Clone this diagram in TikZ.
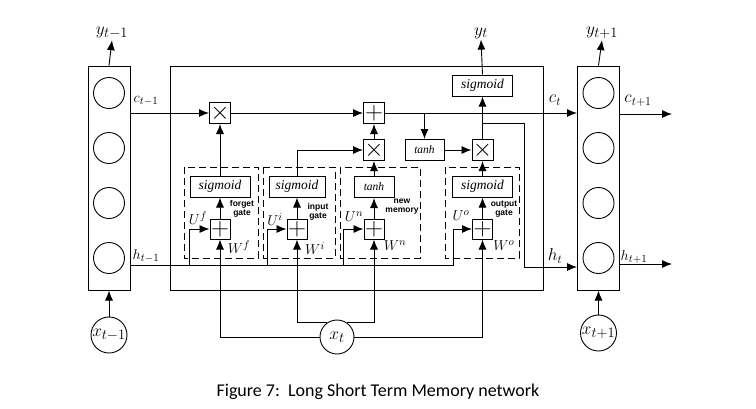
\documentclass[tikz,border=0pt]{standalone}
\usepackage{fontspec}
\setmainfont{Liberation Serif}
\setsansfont{Liberation Sans}
\newfontfamily\capfont{Carlito}
\usetikzlibrary{arrows.meta}
\tikzset{
  ln/.style={line width=0.9pt},
  arr/.style={ln, -{Latex[length=10pt,width=8pt]}},
  opbox/.style={draw, line width=1pt, minimum size=21pt, inner sep=0pt, font=\fontsize{24}{24}\selectfont},
  gop/.style={draw, line width=1pt, minimum size=20pt, inner sep=0pt, font=\fontsize{24}{24}\selectfont},
  fbox/.style={draw, line width=1pt, minimum height=21pt, inner sep=0pt, font=\fontsize{13.5}{13.5}\selectfont\itshape},
  gbox/.style={draw, dash pattern=on 7pt off 4pt, line width=1pt},
  unit/.style={draw, circle, line width=0.9pt, minimum size=31pt, inner sep=0pt},
  col/.style={draw, line width=1pt, minimum width=42pt, minimum height=224pt, inner sep=0pt},
  glab/.style={font=\fontsize{8.5}{9}\selectfont\sffamily\bfseries, align=center, inner sep=0pt},
  yl/.style={font=\fontsize{19}{19}\selectfont, inner sep=1pt},
  sl/.style={font=\fontsize{15}{15}\selectfont, inner sep=0pt},
  wl/.style={font=\fontsize{15.5}{15.5}\selectfont, inner sep=0pt}
}
\begin{document}
\begin{tikzpicture}[x=1pt,y=-1pt]
\fill[white] (0,0) rectangle (756,408);
\useasboundingbox (0,0) rectangle (756,408);

% big cell box
\node[draw, ln, minimum width=373pt, minimum height=224pt, inner sep=0pt] (cell) at (356.5,178) {};

% columns
\node[col] (L) at (109,178) {};
\node[col] (R) at (598.5,178) {};
\foreach \yy [count=\i] in {93,148,203,258} {
  \node[unit] (L\i) at (109,\yy) {};
  \node[unit] (R\i) at (598.5,\yy) {};
}

% column inputs / outputs
\node[yl] (ylm) at (112,33) {$y_{t-1}$};
\node[yl] (ylp) at (602,33) {$y_{t+1}$};
\draw[arr] (L.north) -- (ylm.south);
\draw[arr] (R.north) -- (ylp.south);
\node[unit, minimum size=36pt, font=\fontsize{19}{19}\selectfont] (xlm) at (109,335) {$x_{t-1}$};
\node[unit, minimum size=36pt, font=\fontsize{19}{19}\selectfont] (xlp) at (598.5,333) {$x_{t+1}$};
\draw[arr] (xlm.north) -- (L.south);
\draw[arr] (xlp.north) -- (R.south);

% cell-state path
\coordinate (cy) at (0,113);
\node[opbox] (fx) at (220,113) {$\times$};
\node[opbox] (cp) at (374,113) {$+$};
\node[opbox] (nx) at (374,150) {$\times$};
\node[opbox] (ox) at (482.5,150) {$\times$};
\node[fbox, minimum width=39pt, font=\fontsize{11.5}{11.5}\selectfont\itshape] (ct) at (424.5,150) {tanh};
\node[fbox, minimum width=60pt] (ys) at (482.5,85.5) {sigmoid};
\node[yl] (ytl) at (481,33) {$y_t$};

\draw[arr] (L.east |- cy) -- (fx.west);
\draw[arr] (fx.east) -- (cp.west);
\draw[arr] (cp.east) -- (R.west |- cp);
\draw[arr] (ct.north |- cp) -- (ct.north);
\draw[arr] (ct.east) -- (ox.west);
\draw[arr] (ox.north) -- (ys.south);
\draw[arr] (ys.north) -- (ytl.south);
\draw[arr] (nx.north) -- (cp.south);
\coordinate (hb) at (482.5,123);
\coordinate (hc) at (524,267);
\draw[arr] (hb) -| (hc) -- (R.west |- hc);

% gate boxes
\draw[gbox] (184,167) rectangle (258,258);
\draw[gbox] (263,167) rectangle (335,258);
\draw[gbox] (340,167) rectangle (420,258);
\draw[gbox] (445,167) rectangle (519,258);

\node[fbox, minimum width=60pt] (fs) at (220,186.5) {sigmoid};
\node[fbox, minimum width=56pt] (is) at (297,186.5) {sigmoid};
\node[fbox, minimum width=40pt, font=\fontsize{11.5}{11.5}\selectfont\itshape] (ns) at (374,187) {tanh};
\node[fbox, minimum width=60pt] (os) at (482.5,186.5) {sigmoid};

\node[gop] (fp) at (220,229) {$+$};
\node[gop] (ip) at (297,229) {$+$};
\node[gop] (np) at (374,229) {$+$};
\node[gop] (op) at (482.5,229) {$+$};

\draw[arr] (fp.north) -- (fs.south);
\draw[arr] (ip.north) -- (is.south);
\draw[arr] (np.north) -- (ns.south);
\draw[arr] (op.north) -- (os.south);
\draw[arr] (fs.north) -- (fx.south);
\draw[arr] (is.north) |- (nx.west);
\draw[arr] (ns.north) -- (nx.south);
\draw[arr] (os.north) -- (ox.south);

% hidden-state input
\coordinate (hy) at (0,265);
\coordinate (hend) at (453,265);
\coordinate (uf) at (189,265);
\coordinate (ui) at (267,265);
\coordinate (un) at (343,265);
\draw[arr] (L.east |- hy) -- (hend) |- (op.west);
\draw[arr] (uf) |- (fp.west);
\draw[arr] (ui) |- (ip.west);
\draw[arr] (un) |- (np.west);

% x_t input
\node[unit, minimum size=34pt, font=\fontsize{19}{19}\selectfont] (xt) at (337,337) {$x_t$};
\draw[arr] (xt.west) -| (fp.south);
\draw[arr] (xt.east) -| (op.south);
\draw[arr] (xt.125) -| (ip.south);
\draw[arr] (xt.55) -| (np.south);

% right outputs
\coordinate (co) at (672,114);
\coordinate (ho) at (672,264);
\draw[arr] (R.east |- co) -- (co);
\draw[arr] (R.east |- ho) -- (ho);

% labels
\node[glab] at (242,209) {forget\\gate};
\node[glab] at (318,212) {input\\gate};
\node[glab] at (402,207) {new\\memory};
\node[glab] at (504,209) {output\\gate};

\node[wl] at (198,218) {$U^f$};
\node[wl] at (275,219) {$U^i$};
\node[wl] at (354,217) {$U^n$};
\node[wl] at (461,216) {$U^o$};
\node[wl] at (239,247) {$W^f$};
\node[wl] at (315,248) {$W^i$};
\node[wl] at (395,246) {$W^n$};
\node[wl] at (504,246) {$W^o$};

\node[sl] at (146,101) {$c_{t-1}$};
\node[sl] at (146,256) {$h_{t-1}$};
\node[sl, font=\fontsize{17}{17}\selectfont] at (555,100) {$c_t$};
\node[sl, font=\fontsize{17}{17}\selectfont] at (555,256) {$h_t$};
\node[sl, font=\fontsize{17}{17}\selectfont] at (638,101) {$c_{t+1}$};
\node[sl] at (634,257) {$h_{t+1}$};

\node[font=\capfont\fontsize{18}{18}\selectfont] at (378,392) {Figure 7:\ \ Long Short Term Memory network};
\end{tikzpicture}
\end{document}
